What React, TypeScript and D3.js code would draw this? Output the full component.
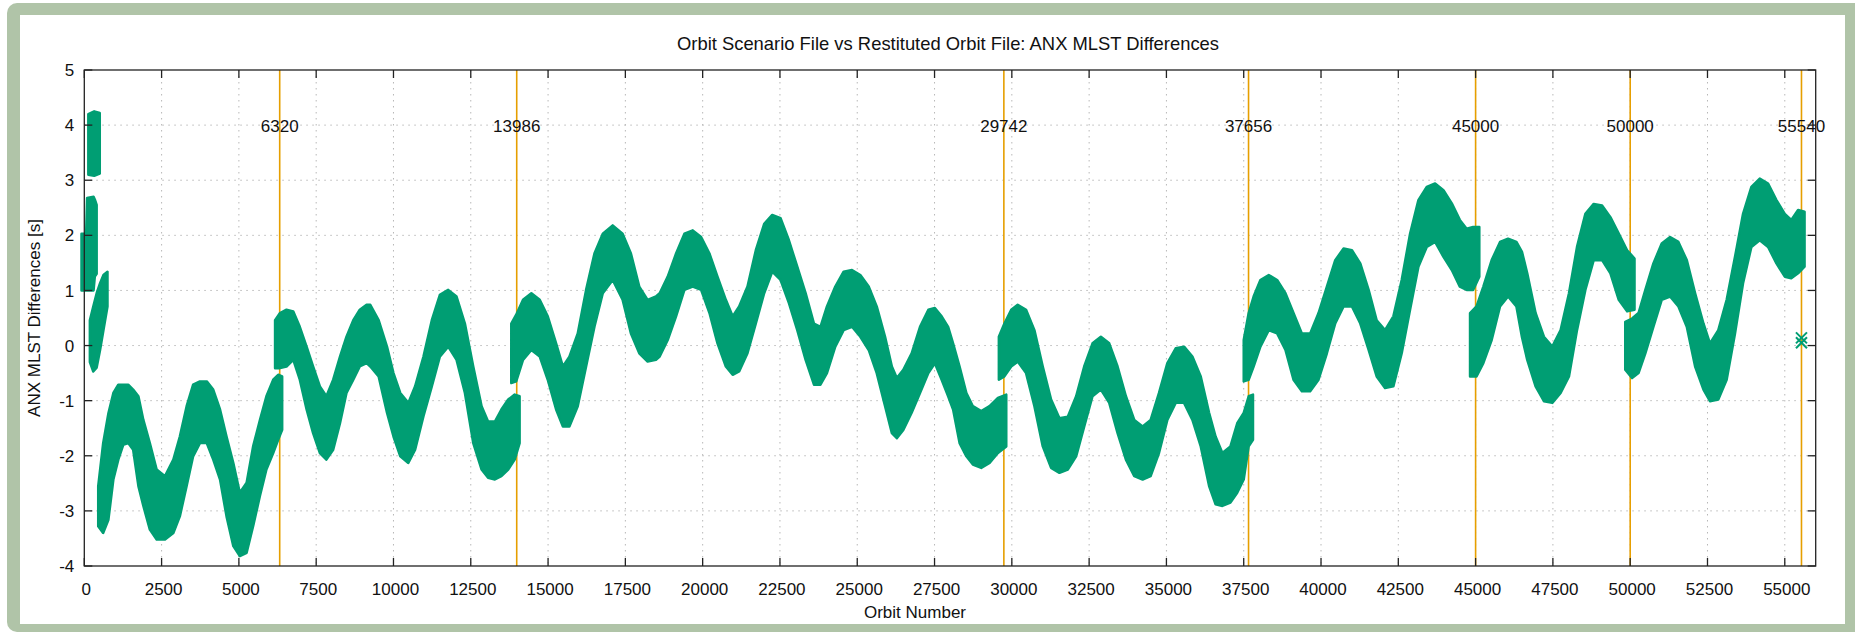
import React from "react";
import * as d3 from "d3";

// ---------- data ----------
const xTickValues = [0, 2500, 5000, 7500, 10000, 12500, 15000, 17500, 20000, 22500, 25000, 27500, 30000, 32500, 35000, 37500, 40000, 42500, 45000, 47500, 50000, 52500, 55000];
const yTickValues = [-4, -3, -2, -1, 0, 1, 2, 3, 4, 5];
const eventOrbits = [6320, 13986, 29742, 37656, 45000, 50000, 55540];

// each band: [orbit, upper envelope, lower envelope] of the dense scatter
const bandA: [number, number, number][] = [
  [-90, 2.03, 1.0], [60, 2.03, 1.0], [90, 2.68, 1.0], [300, 2.7, 1.0], [340, 2.65, 1.25], [400, 2.55, 1.3],
];
const bandB: [number, number, number][] = [
  [130, 4.2, 3.1], [320, 4.25, 3.08], [500, 4.22, 3.12],
];
const bandC: [number, number, number][] = [
  [180, 0.46, -0.3], [290, 0.71, -0.47], [400, 0.95, -0.4], [510, 1.13, -0.08], [620, 1.28, 0.28], [750, 1.34, 0.71],
];
const band1: [number, number, number][] = [
  [450, -2.55, -3.28], [610, -1.77, -3.4], [780, -1.23, -3.16], [940, -0.86, -2.43], [1100, -0.71, -2.07],
  [1260, -0.71, -1.8], [1420, -0.71, -1.77], [1580, -0.8, -1.89], [1750, -0.92, -2.55], [1910, -1.35, -2.91],
  [2120, -1.77, -3.34], [2340, -2.25, -3.52], [2610, -2.37, -3.52], [2880, -2.07, -3.4], [3090, -1.65, -3.1],
  [3310, -1.1, -2.55], [3520, -0.71, -2.01], [3740, -0.65, -1.77], [3960, -0.65, -1.77], [4170, -0.8, -2.07],
  [4390, -1.16, -2.43], [4600, -1.65, -3.1], [4820, -2.13, -3.64], [5030, -2.67, -3.82], [5250, -2.49, -3.76],
  [5460, -1.83, -3.28], [5680, -1.35, -2.73], [5890, -0.92, -2.25], [6110, -0.62, -1.95], [6270, -0.53, -1.71],
  [6400, -0.56, -1.53],
];
const band2: [number, number, number][] = [
  [6170, 0.46, -0.41], [6330, 0.59, -0.41], [6540, 0.65, -0.38], [6760, 0.62, -0.26], [6970, 0.34, -0.62],
  [7190, -0.02, -1.16], [7400, -0.38, -1.59], [7620, -0.74, -1.95], [7830, -0.92, -2.07], [8050, -0.62, -1.89],
  [8270, -0.2, -1.41], [8480, 0.16, -0.86], [8700, 0.46, -0.62], [8910, 0.65, -0.38], [9130, 0.74, -0.32],
  [9250, 0.74, -0.38], [9520, 0.46, -0.56], [9790, -0.02, -1.22], [10000, -0.5, -1.65], [10220, -0.86, -2.01],
  [10480, -1.04, -2.13], [10700, -0.74, -1.89], [10970, -0.2, -1.28], [11240, 0.46, -0.74], [11500, 0.92, -0.2],
  [11770, 1.01, -0.02], [12040, 0.89, -0.26], [12310, 0.4, -0.86], [12580, -0.38, -1.77], [12850, -1.1, -2.25],
  [13060, -1.38, -2.4], [13280, -1.38, -2.43], [13490, -1.16, -2.37], [13710, -0.98, -2.25], [13920, -0.89, -2.07],
  [14080, -0.92, -1.77],
];
const band3: [number, number, number][] = [
  [13810, 0.4, -0.68], [13970, 0.56, -0.65], [14190, 0.83, -0.26], [14460, 0.95, -0.08], [14730, 0.83, -0.2],
  [14990, 0.53, -0.62], [15260, 0.04, -1.16], [15480, -0.38, -1.47], [15690, -0.2, -1.47], [15960, 0.22, -1.1],
  [16230, 1.01, -0.38], [16500, 1.67, 0.34], [16770, 2.03, 0.95], [17090, 2.18, 1.19], [17410, 2.03, 0.83],
  [17680, 1.67, 0.22], [17950, 1.07, -0.14], [18220, 0.83, -0.29], [18490, 0.89, -0.26], [18610, 0.95, -0.2],
  [18870, 1.25, 0.1], [19140, 1.67, 0.53], [19410, 2.03, 1.01], [19680, 2.09, 1.07], [19950, 1.97, 1.01],
  [20220, 1.67, 0.59], [20480, 1.25, 0.04], [20750, 0.83, -0.38], [20970, 0.53, -0.53], [21180, 0.71, -0.47],
  [21450, 1.07, -0.14], [21720, 1.73, 0.4], [21990, 2.21, 0.95], [22250, 2.37, 1.34], [22520, 2.31, 1.19],
  [22790, 1.91, 0.77], [23060, 1.43, 0.28], [23330, 0.95, -0.26], [23600, 0.4, -0.71], [23810, 0.34, -0.71],
  [24020, 0.71, -0.5], [24290, 1.07, -0.02], [24560, 1.34, 0.28], [24830, 1.37, 0.34], [25100, 1.28, 0.16],
  [25370, 1.07, -0.08], [25630, 0.71, -0.5], [25900, 0.16, -1.1], [26120, -0.38, -1.59], [26280, -0.59, -1.68],
  [26490, -0.44, -1.53], [26760, -0.14, -1.22], [27030, 0.34, -0.86], [27300, 0.65, -0.5], [27510, 0.68, -0.32],
  [27730, 0.53, -0.62], [27940, 0.34, -0.92], [28100, 0.04, -1.16], [28310, -0.38, -1.77], [28530, -0.86, -2.01],
  [28740, -1.1, -2.16], [29010, -1.19, -2.22], [29280, -1.1, -2.13], [29550, -0.95, -1.95], [29820, -0.89, -1.83],
];
const band4: [number, number, number][] = [
  [29580, 0.16, -0.62], [29760, 0.4, -0.56], [29980, 0.65, -0.38], [30190, 0.74, -0.29], [30460, 0.65, -0.5],
  [30730, 0.28, -1.1], [31000, -0.38, -1.83], [31270, -0.98, -2.22], [31540, -1.32, -2.31], [31810, -1.29, -2.25],
  [32080, -0.92, -2.01], [32340, -0.38, -1.47], [32610, 0.04, -0.92], [32880, 0.16, -0.8], [33150, 0.04, -1.04],
  [33420, -0.38, -1.59], [33690, -0.92, -2.07], [33960, -1.35, -2.37], [34230, -1.47, -2.43], [34490, -1.35, -2.37],
  [34760, -0.86, -1.95], [35030, -0.32, -1.35], [35300, -0.05, -1.04], [35570, -0.02, -1.04], [35840, -0.2, -1.35],
  [36110, -0.56, -1.83], [36380, -1.22, -2.55], [36590, -1.65, -2.88], [36810, -1.95, -2.91], [37070, -1.83, -2.85],
  [37290, -1.41, -2.67], [37500, -1.22, -2.43], [37660, -0.92, -1.83], [37800, -0.89, -1.71],
];
const band5: [number, number, number][] = [
  [37500, 0.1, -0.65], [37660, 0.59, -0.62], [37820, 0.89, -0.38], [38040, 1.19, -0.02], [38310, 1.28, 0.28],
  [38580, 1.19, 0.22], [38850, 0.95, -0.08], [39110, 0.59, -0.62], [39380, 0.22, -0.83], [39650, 0.22, -0.83],
  [39920, 0.59, -0.62], [40190, 1.07, -0.14], [40460, 1.55, 0.4], [40730, 1.76, 0.71], [41000, 1.73, 0.71],
  [41270, 1.49, 0.4], [41540, 1.01, -0.08], [41800, 0.46, -0.56], [42070, 0.28, -0.77], [42340, 0.53, -0.74],
  [42610, 1.19, -0.14], [42880, 2.03, 0.65], [43150, 2.64, 1.43], [43420, 2.88, 1.79], [43690, 2.94, 1.88],
  [43960, 2.82, 1.61], [44230, 2.58, 1.37], [44490, 2.28, 1.07], [44710, 2.12, 1.01], [44920, 2.15, 1.01],
  [45120, 2.15, 1.25],
];
const band6: [number, number, number][] = [
  [44820, 0.59, -0.56], [45030, 0.71, -0.56], [45250, 1.07, -0.32], [45520, 1.55, 0.1], [45790, 1.88, 0.71],
  [46050, 1.94, 0.89], [46320, 1.88, 0.71], [46500, 1.7, 0.15], [46670, 1.31, -0.26], [46940, 0.59, -0.74],
  [47210, 0.16, -1.01], [47480, -0.02, -1.04], [47750, 0.28, -0.86], [48020, 0.95, -0.56], [48280, 1.79, 0.28],
  [48550, 2.39, 1.01], [48820, 2.57, 1.55], [49090, 2.54, 1.55], [49360, 2.33, 1.31], [49630, 2.03, 0.83],
  [49900, 1.73, 0.62], [50140, 1.58, 0.65],
];
const band7: [number, number, number][] = [
  [49840, 0.43, -0.44], [50060, 0.49, -0.59], [50270, 0.59, -0.5], [50490, 1.01, -0.14], [50750, 1.49, 0.34],
  [51020, 1.85, 0.83], [51290, 1.97, 0.89], [51560, 1.88, 0.71], [51830, 1.55, 0.34], [52100, 0.95, -0.38],
  [52370, 0.4, -0.8], [52580, 0.04, -1.01], [52850, 0.28, -0.98], [53120, 0.83, -0.62], [53390, 1.61, 0.22],
  [53650, 2.39, 1.13], [53920, 2.88, 1.79], [54190, 3.03, 1.91], [54460, 2.94, 1.79], [54730, 2.64, 1.49],
  [55000, 2.39, 1.25], [55210, 2.28, 1.22], [55430, 2.46, 1.31], [55640, 2.43, 1.43],
];
const isolatedPoints: [number, number][] = [[55540, 0.14], [55540, 0.05]];

const bands = [bandA, bandB, bandC, band1, band2, band3, band4, band5, band6, band7];

const titleText = "Orbit Scenario File vs Restituted Orbit File: ANX MLST Differences";
const xLabelText = "Orbit Number";
const yLabelText = "ANX MLST Differences [s]";

const GREEN = "#009E73";
const ORANGE = "#E69F00";
const FONT = "'Liberation Sans', Arial, Helvetica, sans-serif";

export default function App() {
  const W = 1855;
  const H = 633;
  const left = 84.3;
  const right = 1815.7;
  const top = 70;
  const bottom = 566;

  const x = d3.scaleLinear().domain([0, 56000]).range([left, right]);
  const y = d3.scaleLinear().domain([-4, 5]).range([bottom, top]);

  const area = d3
    .area<[number, number, number]>()
    .x((d) => x(d[0]))
    .y0((d) => y(d[2]))
    .y1((d) => y(d[1]))
    .curve(d3.curveLinear);

  const tickLen = 8;
  const cross = 5.5;

  return (
    <svg
      width={W}
      height={H}
      style={{ position: "absolute", left: 0, top: 0, display: "block" }}
      fontFamily={FONT}
    >
      <rect x={0} y={0} width={W} height={H} fill="#ffffff" />
      <rect x={7} y={3} width={W - 7 + 12} height={629} rx={10} ry={10} fill="#b0c4a8" />
      <rect x={20} y={15} width={1825} height={609} fill="#ffffff" />

      {/* grid */}
      <g stroke="#b8b8b8" strokeWidth={1} strokeDasharray="1.5,4.5">
        {xTickValues.filter((v) => v > 0).map((v) => (
          <line key={"gx" + v} x1={x(v)} x2={x(v)} y1={top} y2={bottom} />
        ))}
        {yTickValues.filter((v) => v > -4 && v < 5).map((v) => (
          <line key={"gy" + v} x1={left} x2={right} y1={y(v)} y2={y(v)} />
        ))}
      </g>

      {/* event lines */}
      <g stroke={ORANGE} strokeWidth={1.6}>
        {eventOrbits.map((v) => (
          <line key={"ev" + v} x1={x(v)} x2={x(v)} y1={top} y2={bottom} />
        ))}
      </g>

      {/* data bands */}
      <g fill={GREEN} stroke={GREEN} strokeWidth={2.5} strokeLinejoin="round">
        {bands.map((b, i) => (
          <path key={"b" + i} d={area(b) || ""} />
        ))}
      </g>
      <g stroke={GREEN} strokeWidth={2}>
        {isolatedPoints.map((p, i) => (
          <g key={"p" + i}>
            <line x1={x(p[0]) - cross} x2={x(p[0]) + cross} y1={y(p[1]) - cross} y2={y(p[1]) + cross} />
            <line x1={x(p[0]) - cross} x2={x(p[0]) + cross} y1={y(p[1]) + cross} y2={y(p[1]) - cross} />
          </g>
        ))}
      </g>

      {/* event labels */}
      <g fontSize={17} fill="#111" textAnchor="middle">
        {eventOrbits.map((v) => (
          <text key={"el" + v} x={x(v)} y={y(4)} dy="0.38em">
            {v}
          </text>
        ))}
      </g>

      {/* border and ticks */}
      <rect x={left} y={top} width={right - left} height={bottom - top} fill="none" stroke="#222" strokeWidth={1.3} />
      <g stroke="#222" strokeWidth={1.3}>
        {xTickValues.map((v) => (
          <g key={"tx" + v}>
            <line x1={x(v)} x2={x(v)} y1={bottom} y2={bottom - tickLen} />
            <line x1={x(v)} x2={x(v)} y1={top} y2={top + tickLen} />
          </g>
        ))}
        {yTickValues.map((v) => (
          <g key={"ty" + v}>
            <line x1={left} x2={left + tickLen} y1={y(v)} y2={y(v)} />
            <line x1={right} x2={right - tickLen} y1={y(v)} y2={y(v)} />
          </g>
        ))}
      </g>

      <g fontSize={17} fill="#111">
        {xTickValues.map((v) => (
          <text key={"xl" + v} x={x(v) + 2} y={bottom + 29} textAnchor="middle">
            {v}
          </text>
        ))}
        {yTickValues.map((v) => (
          <text key={"yl" + v} x={left - 10} y={y(v)} dy="0.36em" textAnchor="end">
            {v}
          </text>
        ))}
      </g>

      <text x={948} y={50} fontSize={18.4} textAnchor="middle" fill="#111">
        {titleText}
      </text>
      <text x={915} y={618} fontSize={17} textAnchor="middle" fill="#111">
        {xLabelText}
      </text>
      <text
        transform={`translate(40,${(top + bottom) / 2}) rotate(-90)`}
        fontSize={17}
        textAnchor="middle"
        fill="#111"
      >
        {yLabelText}
      </text>
    </svg>
  );
}
